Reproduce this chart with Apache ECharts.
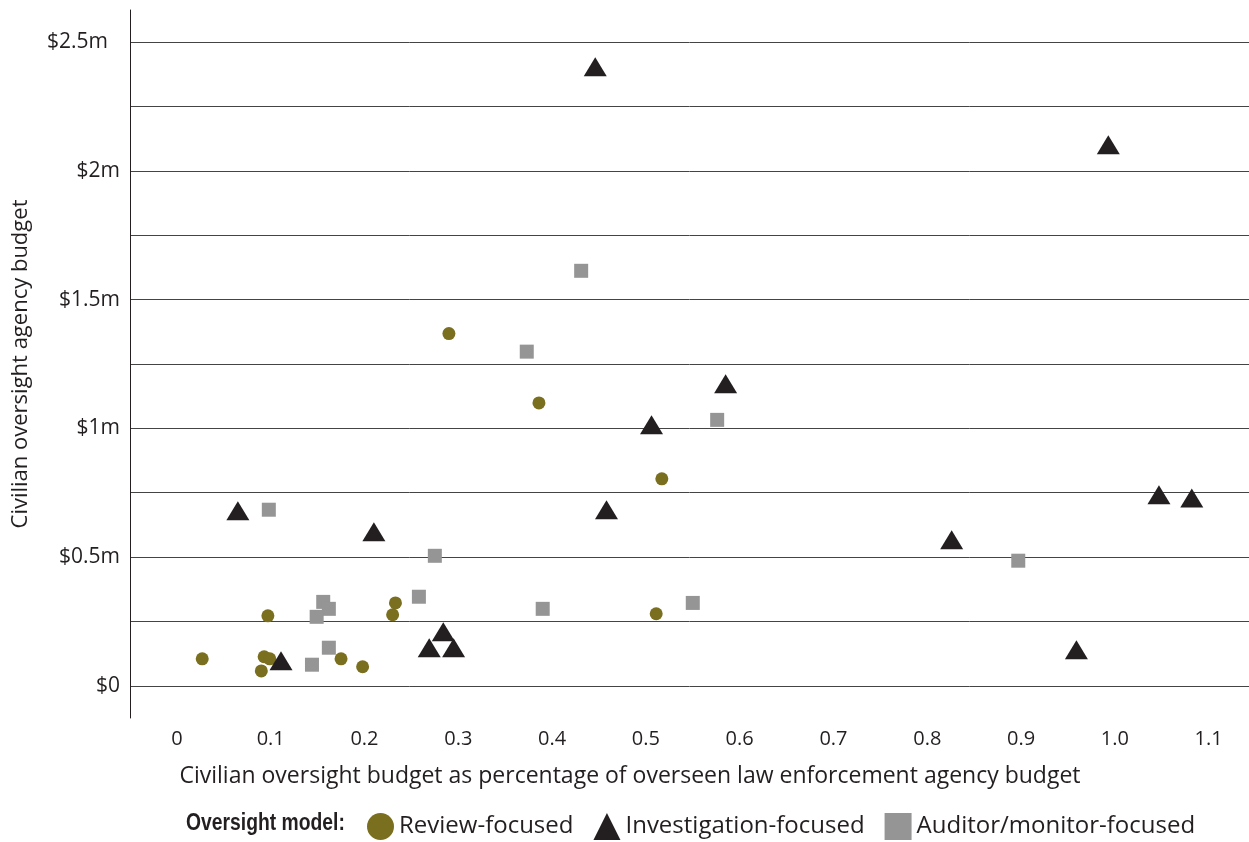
<!DOCTYPE html>
<html>
<head>
<meta charset="utf-8">
<script src="https://cdn.jsdelivr.net/npm/echarts@6/dist/echarts.min.js"></script>
<style>
html,body{margin:0;padding:0;background:#fff;}
#chart{width:1249px;height:842px;}
</style>
</head>
<body>
<div id="chart"></div>
<script>
// [budget % of law enforcement budget, budget in $m]
const reviewFocused = [
  [0.027, 0.105], [0.097, 0.272], [0.093, 0.113], [0.099, 0.105], [0.090, 0.058],
  [0.175, 0.105], [0.198, 0.074], [0.230, 0.276], [0.233, 0.322], [0.290, 1.368],
  [0.386, 1.099], [0.517, 0.804], [0.511, 0.280]
];
const investigationFocused = [
  [0.446, 2.405], [0.993, 2.102], [0.585, 1.173], [0.506, 1.014], [1.047, 0.742],
  [1.082, 0.730], [0.458, 0.684], [0.065, 0.680], [0.210, 0.598], [0.826, 0.567],
  [0.284, 0.210], [0.269, 0.148], [0.295, 0.148], [0.111, 0.097], [0.959, 0.140]
];
const auditorFocused = [
  [0.431, 1.612], [0.373, 1.298], [0.576, 1.033], [0.098, 0.684], [0.275, 0.505],
  [0.897, 0.486], [0.258, 0.346], [0.156, 0.326], [0.162, 0.299], [0.149, 0.268],
  [0.390, 0.299], [0.550, 0.322], [0.162, 0.148], [0.144, 0.082]
];
const seriesNames = ['Review-focused', 'Investigation-focused', 'Auditor/monitor-focused'];
const xTickLabels = ['0','0.1','0.2','0.3','0.4','0.5','0.6','0.7','0.8','0.9','1.0','1.1'];
const yTickLabels = ['$0','$0.5m','$1m','$1.5m','$2m','$2.5m'];
const xTitle = 'Civilian oversight budget as percentage of overseen law enforcement agency budget';
const yTitle = 'Civilian oversight agency budget';
const legendTitle = 'Oversight model:';

const FONT = '"Open Sans", "Noto Sans", sans-serif';
const chart = echarts.init(document.getElementById('chart'), null, {renderer: 'canvas'});

function near(v, step) { return Math.abs(v / step - Math.round(v / step)) < 1e-6; }

chart.setOption({
  animation: false,
  backgroundColor: '#ffffff',
  grid: {left: 130, right: 0, top: 10, bottom: 124, containLabel: false},
  xAxis: {
    type: 'value', min: -0.05, max: 1.143, interval: 0.05,
    axisLine: {show: false}, axisTick: {show: false}, splitLine: {show: false},
    axisLabel: {
      margin: 11, color: '#231f20', fontFamily: FONT, fontSize: 20, showMaxLabel: false, showMinLabel: false,
      formatter: function (v) {
        if (!near(v, 0.1) || v < -1e-9) return '';
        const i = Math.round(v * 10);
        return xTickLabels[i] || '';
      }
    }
  },
  yAxis: {
    type: 'value', min: -0.125, max: 2.625, interval: 0.125,
    name: yTitle, nameLocation: 'middle', nameGap: 98, nameRotate: 90,
    nameTextStyle: {color: '#231f20', fontFamily: FONT, fontSize: 22},
    axisLine: {show: true, onZero: false, lineStyle: {color: '#231f20', width: 1}},
    axisTick: {show: false},
    splitLine: {show: true, lineStyle: {color: ['rgba(0,0,0,0)', '#444444'], width: 1}},
    axisLabel: {
      margin: 10, color: '#231f20', fontFamily: FONT, fontSize: 21,
      formatter: function (v) {
        if (!near(v, 0.5) || v < -1e-9) return '';
        const i = Math.round(v / 0.5);
        if (i === yTickLabels.length - 1) return '{pad|' + yTickLabels[i] + '}';
        return yTickLabels[i] || '';
      },
      rich: {pad: {fontFamily: FONT, fontSize: 21, color: '#231f20', padding: [0, 12, 0, 0]}}
    }
  },
  legend: {
    left: 362, top: 808, itemWidth: 27, itemHeight: 27, itemGap: 20,
    textStyle: {color: '#231f20', fontFamily: FONT, fontSize: 24},
    data: [
      {name: seriesNames[0], icon: 'circle'},
      {name: seriesNames[1], icon: 'triangle'},
      {name: seriesNames[2], icon: 'rect'}
    ]
  },
  graphic: [
    {type: 'text', x: 186, y: 824, scaleX: 0.84,
      style: {text: legendTitle, fill: '#231f20', verticalAlign: 'middle',
      font: 'bold 23px "Liberation Sans", Arial, sans-serif'}},
    {type: 'text', x: 630, y: 776, style: {text: xTitle, fill: '#231f20', align: 'center', verticalAlign: 'middle',
      font: '23px ' + FONT}}
  ],
  series: [
    {name: seriesNames[0], type: 'scatter', data: reviewFocused, symbol: 'circle', symbolSize: 13,
      itemStyle: {color: '#7a6e1f', opacity: 1}, z: 3},
    {name: seriesNames[1], type: 'scatter', data: investigationFocused, symbol: 'triangle', symbolSize: [23, 19],
      itemStyle: {color: '#231f20', opacity: 1}, z: 4},
    {name: seriesNames[2], type: 'scatter', data: auditorFocused, symbol: 'rect', symbolSize: 14,
      itemStyle: {color: '#959595', opacity: 1}, z: 5}
  ]
});
</script>
</body>
</html>
